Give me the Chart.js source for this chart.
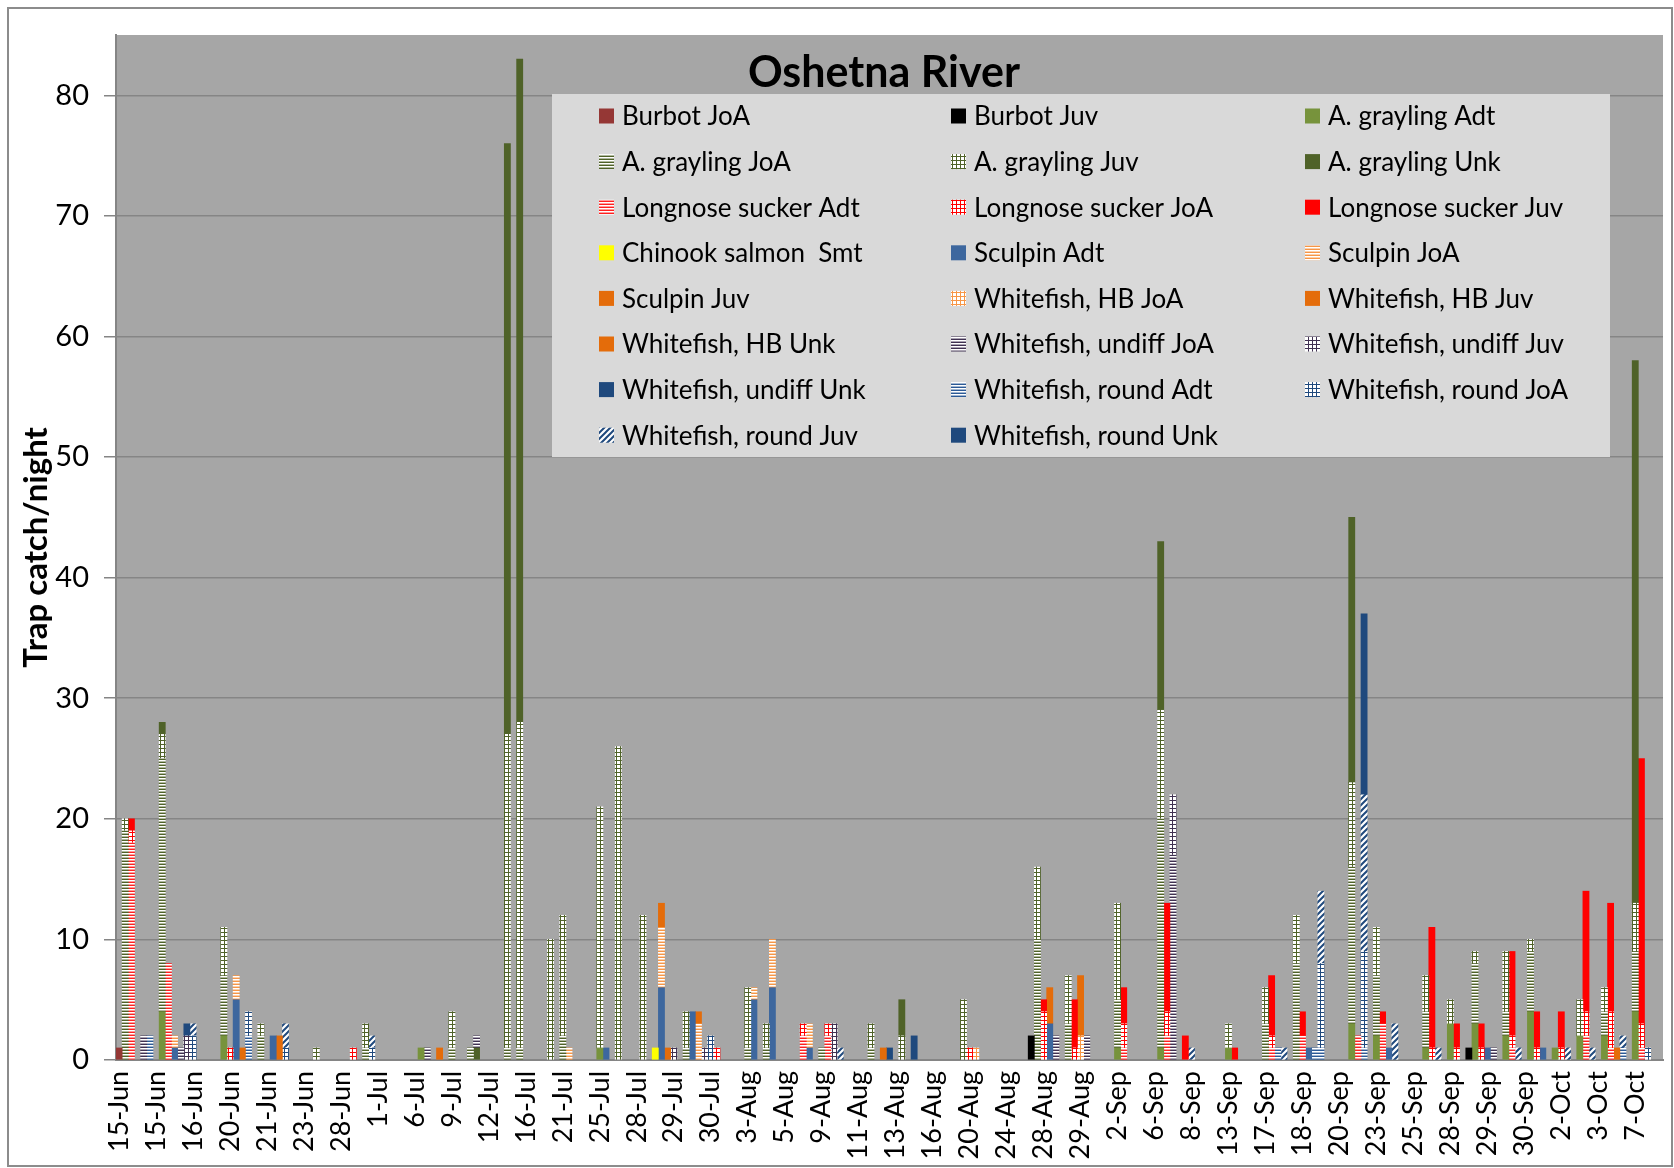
<!DOCTYPE html>
<html>
<head>
<meta charset="utf-8">
<title>Oshetna River</title>
<script src="https://cdn.jsdelivr.net/npm/chart.js@4.4.1/dist/chart.umd.min.js"></script>
<style>
  html, body { margin: 0; padding: 0; background: #fff; }
</style>
</head>
<body>
<canvas id="trapChart" width="1674" height="1168"></canvas>
<script>
// Trap rows: one stacked column per trap-night, a date label every 6th row
const rowCount = 251;
const rowsPerLabel = 6;
const dateLabels = ["15-Jun", "15-Jun", "16-Jun", "20-Jun", "21-Jun", "23-Jun", "28-Jun", "1-Jul",
  "6-Jul", "9-Jul", "12-Jul", "16-Jul", "21-Jul", "25-Jul", "28-Jul", "29-Jul", "30-Jul",
  "3-Aug", "5-Aug", "9-Aug", "11-Aug", "13-Aug", "16-Aug", "20-Aug", "24-Aug", "28-Aug", "29-Aug",
  "2-Sep", "6-Sep", "8-Sep", "13-Sep", "17-Sep", "18-Sep", "20-Sep", "23-Sep", "25-Sep",
  "28-Sep", "29-Sep", "30-Sep", "2-Oct", "3-Oct", "7-Oct"];
const yTicks = [0, 10, 20, 30, 40, 50, 60, 70, 80];
const chartTitle = "Oshetna River";
const yTitle = "Trap catch/night";

const seriesNames = ["Burbot JoA", "Burbot Juv", "A. grayling Adt", "A. grayling JoA", "A. grayling Juv",
  "A. grayling Unk", "Longnose sucker Adt", "Longnose sucker JoA", "Longnose sucker Juv",
  "Chinook salmon  Smt", "Sculpin Adt", "Sculpin JoA", "Sculpin Juv", "Whitefish, HB JoA",
  "Whitefish, HB Juv", "Whitefish, HB Unk", "Whitefish, undiff JoA", "Whitefish, undiff Juv",
  "Whitefish, undiff Unk", "Whitefish, round Adt", "Whitefish, round JoA", "Whitefish, round Juv",
  "Whitefish, round Unk"];

// [row, catch] pairs for each series
const burbotJoA = [[0, 1]];
const burbotJuv = [[148, 2], [219, 1]];
const graylingAdt = [[7, 4], [17, 2], [49, 1], [78, 1], [162, 1], [169, 1], [180, 1], [200, 3], [204, 2],
  [212, 1], [216, 3], [220, 3], [225, 2], [229, 4], [233, 1], [237, 2], [241, 2], [246, 4]];
const graylingJoA = [[1, 19], [7, 21], [17, 5], [23, 2], [40, 1], [54, 1], [57, 1], [63, 1], [65, 1],
  [72, 2], [92, 1], [102, 1], [105, 1], [114, 1], [122, 1], [149, 10], [154, 3], [162, 4], [169, 19],
  [186, 3], [191, 8], [200, 13], [204, 5], [212, 3], [220, 5], [225, 2], [229, 5], [241, 2], [246, 5]];
const graylingJuv = [[1, 1], [7, 2], [17, 4], [23, 1], [32, 1], [40, 2], [54, 3], [63, 26], [65, 27],
  [70, 10], [72, 10], [78, 20], [81, 26], [85, 12], [92, 3], [102, 5], [105, 2], [122, 2], [127, 2],
  [137, 5], [149, 6], [154, 4], [162, 8], [169, 9], [180, 2], [186, 3], [191, 4], [200, 7], [204, 4],
  [212, 3], [216, 2], [220, 1], [225, 5], [229, 1], [237, 3], [241, 2], [246, 4]];
const graylingUnk = [[7, 1], [58, 1], [63, 49], [65, 55], [127, 3], [169, 14], [200, 22], [246, 45]];
const suckerAdt = [[2, 18], [8, 8], [111, 2], [115, 2], [163, 1], [170, 2], [187, 1], [192, 2], [201, 2],
  [205, 3], [226, 1], [238, 2], [242, 1], [247, 1]];
const suckerJoA = [[2, 1], [18, 1], [38, 1], [97, 1], [111, 1], [115, 1], [138, 1], [150, 4], [155, 1],
  [163, 2], [170, 2], [187, 1], [213, 1], [217, 1], [221, 1], [226, 1], [230, 1], [234, 1], [238, 2],
  [242, 3], [247, 2]];
const suckerJuv = [[2, 1], [150, 1], [155, 4], [163, 3], [170, 9], [173, 2], [181, 1], [187, 5], [192, 2],
  [205, 1], [213, 10], [217, 2], [221, 2], [226, 7], [230, 3], [234, 3], [238, 10], [242, 9], [247, 22]];
const chinookSmt = [[87, 1]];
const sculpinAdt = [[9, 1], [19, 5], [25, 2], [79, 1], [88, 6], [93, 4], [103, 5], [106, 6], [112, 1],
  [151, 3], [193, 1], [206, 1], [222, 1], [231, 1]];
const sculpinJoA = [[9, 1], [19, 2], [73, 1], [88, 5], [94, 3], [103, 1], [106, 4], [112, 2]];
const sculpinJuv = [[20, 1], [52, 1], [88, 2], [94, 1], [151, 3]];
const hbJoA = [[139, 1], [156, 2]];
const hbJuv = [[26, 2], [156, 5]];
const hbUnk = [[89, 1], [124, 1], [243, 1]];
const undiffJoA = [[4, 2], [10, 1], [50, 1], [58, 1], [152, 2], [157, 2], [171, 17], [223, 1]];
const undiffJuv = [[11, 2], [90, 1], [95, 1], [116, 3], [171, 5]];
const undiffUnk = [[11, 1], [125, 1]];
const roundAdt = [[5, 2], [21, 2], [188, 1], [194, 1], [195, 1], [202, 1], [244, 1]];
const roundJoA = [[12, 2], [21, 2], [27, 1], [41, 1], [96, 2], [195, 7], [202, 8], [248, 1]];
const roundJuv = [[12, 1], [27, 2], [41, 1], [117, 1], [174, 1], [189, 1], [195, 6], [202, 13], [207, 3],
  [214, 1], [227, 1], [235, 1], [239, 1], [244, 1]];
const roundUnk = [[129, 2], [202, 15]];

const seriesValues = [burbotJoA, burbotJuv, graylingAdt, graylingJoA, graylingJuv, graylingUnk,
  suckerAdt, suckerJoA, suckerJuv, chinookSmt, sculpinAdt, sculpinJoA, sculpinJuv,
  hbJoA, hbJuv, hbUnk, undiffJoA, undiffJuv, undiffUnk, roundAdt, roundJoA, roundJuv, roundUnk];

// fill style per series: [kind, colour]
const seriesFills = [
  ["solid", "#953735"], ["solid", "#000000"], ["solid", "#77933C"], ["stripe", "#4F6228"],
  ["grid", "#4F6228"], ["solid", "#4F6228"], ["stripe", "#FF2020"], ["grid", "#FF0000"],
  ["solid", "#FF0000"], ["solid", "#FFFF00"], ["solid", "#3D679E"], ["stripe", "#F79646"],
  ["solid", "#E46C0A"], ["grid", "#F79646"], ["solid", "#E46C0A"], ["solid", "#E46C0A"],
  ["stripe", "#403151"], ["grid", "#403151"], ["solid", "#1F497D"], ["stripe", "#2C5A96"],
  ["grid", "#1F497D"], ["hatch", "#1F497D"], ["solid", "#1F497D"]
];

function spread(pairs) {
  const out = new Array(rowCount).fill(null);
  pairs.forEach(function (p) { out[p[0]] = p[1]; });
  return out;
}

function makeFill(kind, color) {
  if (kind === "solid") return color;
  const c = document.createElement("canvas");
  const g = c.getContext("2d");
  if (kind === "stripe") {
    c.width = 4; c.height = 3;
    g.fillStyle = "#ffffff"; g.fillRect(0, 0, 4, 3);
    g.fillStyle = color; g.fillRect(0, 0, 4, 1);
    g.globalAlpha = 0.45; g.fillRect(0, 2, 4, 1);
  } else if (kind === "grid") {
    c.width = 4; c.height = 4;
    g.fillStyle = "#ffffff"; g.fillRect(0, 0, 4, 4);
    g.fillStyle = color; g.fillRect(0, 0, 4, 1); g.fillRect(0, 0, 1, 4);
  } else {
    c.width = 6; c.height = 6;
    g.fillStyle = "#ffffff"; g.fillRect(0, 0, 6, 6);
    g.strokeStyle = color; g.lineWidth = 2;
    g.beginPath();
    g.moveTo(-1, 7); g.lineTo(7, -1);
    g.moveTo(-4, 4); g.lineTo(4, -4);
    g.moveTo(2, 10); g.lineTo(10, 2);
    g.stroke();
  }
  return g.createPattern(c, "repeat");
}

const rowLabels = [];
for (let i = 0; i < rowCount; i++) rowLabels.push(dateLabels[Math.floor(i / rowsPerLabel)]);

const datasets = seriesNames.map(function (name, i) {
  return {
    label: name,
    data: spread(seriesValues[i]),
    backgroundColor: makeFill(seriesFills[i][0], seriesFills[i][1]),
    borderWidth: 0,
    barPercentage: 1.0,
    categoryPercentage: 1.0
  };
});

const frame = {
  id: "frame",
  beforeDraw(chart) {
    const ctx = chart.ctx, a = chart.chartArea;
    ctx.save();
    ctx.fillStyle = "#ffffff";
    ctx.fillRect(0, 0, chart.width, chart.height);
    ctx.strokeStyle = "#8C8C8C";
    ctx.lineWidth = 2;
    ctx.strokeRect(8, 8, chart.width - 10, chart.height - 10);
    ctx.fillStyle = "#A6A6A6";
    ctx.fillRect(a.left, a.top, a.right - a.left, a.bottom - a.top);
    ctx.restore();
  }
};

const titleAndLegend = {
  id: "titleAndLegend",
  afterDraw(chart, args, o) {
    const ctx = chart.ctx;
    ctx.save();
    ctx.fillStyle = "#000";
    ctx.font = o.titleFont;
    ctx.textAlign = "center";
    ctx.textBaseline = "middle";
    ctx.fillText(chartTitle, o.titleX, o.titleY);

    ctx.fillStyle = "#D9D9D9";
    ctx.fillRect(o.box[0], o.box[1], o.box[2] - o.box[0], o.box[3] - o.box[1]);
    ctx.font = o.font;
    ctx.textAlign = "left";
    chart.data.datasets.forEach(function (ds, i) {
      const col = i % o.colX.length;
      const row = Math.floor(i / o.colX.length);
      const x = o.colX[col];
      const y = o.rowY + row * o.rowStep;
      ctx.fillStyle = ds.backgroundColor;
      ctx.fillRect(x, y - o.swatch / 2, o.swatch, o.swatch);
      ctx.fillStyle = "#000";
      ctx.fillText(ds.label, x + o.textGap, y + 1);
    });
    ctx.restore();
  }
};

new Chart(document.getElementById("trapChart"), {
  type: "bar",
  data: { labels: rowLabels, datasets: datasets },
  plugins: [frame, titleAndLegend],
  options: {
    responsive: false,
    devicePixelRatio: 1,
    animation: false,
    layout: { padding: { left: 8, right: 11, top: 35, bottom: 0 } },
    plugins: {
      legend: { display: false },
      tooltip: { enabled: false },
      titleAndLegend: {
        titleFont: "bold 43px Lato, 'Open Sans', sans-serif",
        titleX: 884, titleY: 73,
        font: "26px Lato, 'Open Sans', sans-serif",
        box: [552, 94, 1610, 457],
        colX: [599, 951, 1305],
        rowY: 116, rowStep: 45.6,
        swatch: 15, textGap: 23
      }
    },
    scales: {
      x: {
        stacked: true,
        grid: { display: false, drawTicks: false },
        border: { display: true, color: "#858585", width: 2 },
        ticks: {
          autoSkip: false,
          minRotation: 90,
          maxRotation: 90,
          padding: 11,
          color: "#000",
          font: { family: "Lato, 'Open Sans', sans-serif", size: 27 },
          callback: function (v, i) { return i % rowsPerLabel === 0 ? rowLabels[i] : ""; }
        },
        afterFit: function (s) { s.height = 108; s.paddingLeft = 0; s.paddingRight = 0; }
      },
      y: {
        stacked: true,
        min: 0,
        max: 85,
        grid: { color: "#858585", lineWidth: 1.5, tickLength: 12 },
        border: { display: true, color: "#858585", width: 2 },
        ticks: {
          stepSize: 10,
          padding: 15,
          color: "#000",
          font: { family: "Lato, 'Open Sans', sans-serif", size: 29 }
        },
        afterBuildTicks: function (s) {
          s.ticks = yTicks.map(function (v) { return { value: v }; });
        },
        title: {
          display: true,
          text: yTitle,
          color: "#000",
          padding: { top: 9, bottom: 0 },
          font: { family: "Lato, 'Open Sans', sans-serif", size: 33, weight: "bold" }
        },
        afterFit: function (s) { s.width = 108; s.paddingTop = 0; s.paddingBottom = 0; }
      }
    }
  }
});
</script>
</body>
</html>
